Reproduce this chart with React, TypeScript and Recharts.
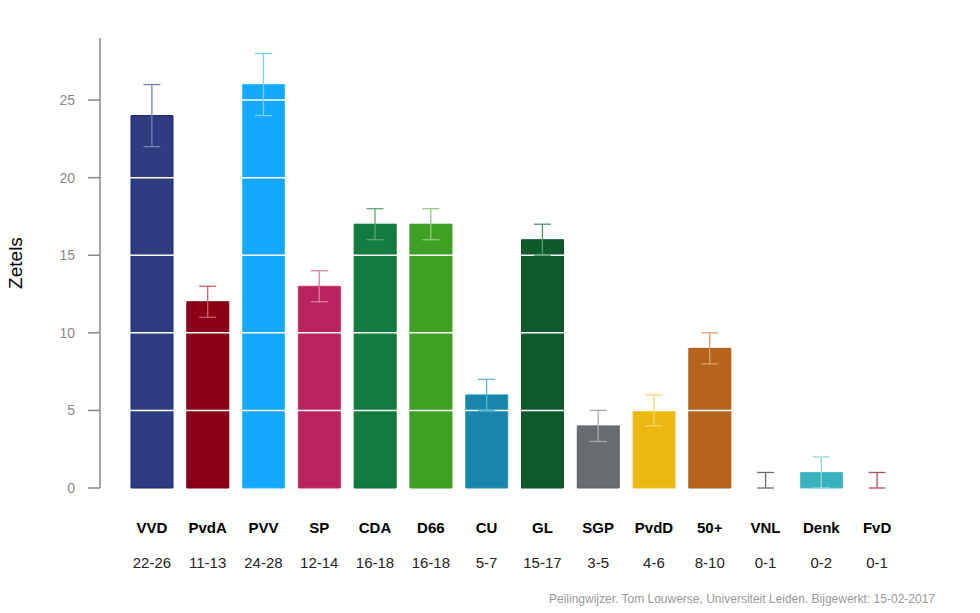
import React from "react";
import { BarChart, Bar, Cell, XAxis, YAxis, ReferenceLine } from "recharts";

const FONT = "'Liberation Sans', Arial, sans-serif";

// Peilingwijzer 15-02-2017: seat estimate with range per party
const parties = ["VVD", "PvdA", "PVV", "SP", "CDA", "D66", "CU", "GL", "SGP", "PvdD", "50+", "VNL", "Denk", "FvD"];
const seats = [24, 12, 26, 13, 17, 17, 6, 16, 4, 5, 9, 0, 1, 0];
const seatsLow = [22, 11, 24, 12, 16, 16, 5, 15, 3, 4, 8, 0, 0, 0];
const seatsHigh = [26, 13, 28, 14, 18, 18, 7, 17, 5, 6, 10, 1, 2, 1];
const yTicks = [0, 5, 10, 15, 20, 25];
const gridValues = [5, 10, 15, 20, 25];

const barColors = [
  "#2f3d80", "#8b0017", "#14a8fe", "#b9245f", "#137b3b", "#3fa124", "#1687ab",
  "#0d5a2a", "#696c71", "#ebb80f", "#b5641c", "#666666", "#38b2bc", "#a83341",
];
const barStrokes = [
  "#1b2873", "#7a0010", "#3cb8ff", "#c8306c", "#0f6f33", "#38961c", "#2a93b5",
  "#0a4f24", "#5c5f63", "#f0c22e", "#a95a15", "#666666", "#4bbfc8", "#a83341",
];
const whiskerColors = [
  "#7180b6", "#c9606e", "#78d3ff", "#e07ca3", "#5fa57a", "#91cd7c", "#5cbad4",
  "#4f9a6c", "#a9abae", "#f6d467", "#d8a271", "#6b6b6b", "#9ad7dc", "#b3505b",
];

const data = parties.map((name, i) => ({ name, seats: seats[i] }));

// whisker drawn on a reference segment, so the library scale places it
function Whisker(props: any) {
  const { x1, y1, x2, y2, stroke } = props;
  const cap = 8.5;
  return (
    <g stroke={stroke} strokeWidth={1.3} fill="none">
      <line x1={x1} y1={y1} x2={x2} y2={y2} />
      <line x1={x1 - cap} y1={y1} x2={x1 + cap} y2={y1} />
      <line x1={x2 - cap} y1={y2} x2={x2 + cap} y2={y2} />
    </g>
  );
}

function PartyTick(props: any) {
  const { x, y, payload } = props;
  const i = parties.indexOf(payload.value);
  return (
    <g>
      <text x={x} y={y + 31} textAnchor="middle" dominantBaseline="central" fontFamily={FONT} fontSize={15} fontWeight="bold" fill="#000">
        {payload.value}
      </text>
      <text x={x} y={y + 66} textAnchor="middle" dominantBaseline="central" fontFamily={FONT} fontSize={15} fill="#222">
        {`${seatsLow[i]}-${seatsHigh[i]}`}
      </text>
    </g>
  );
}

function YLabel(props: any) {
  const vb = props.viewBox;
  const cx = vb.x + 15;
  const cy = vb.y + vb.height / 2;
  return (
    <text x={cx} y={cy} transform={`rotate(-90, ${cx}, ${cy})`} textAnchor="middle" dominantBaseline="central" fontFamily={FONT} fontSize={19} fill="#000">
      Zetels
    </text>
  );
}

export default function App() {
  return (
    <div style={{ position: "absolute", left: 0, top: 0, width: 980, height: 613, background: "#fff" }}>
      <BarChart width={980} height={613} data={data} margin={{ top: 38, right: 75, left: 0, bottom: 15 }}>
        <XAxis
          dataKey="name"
          axisLine={false}
          tickLine={false}
          height={110}
          interval={0}
          padding={{ left: 24, right: 0 }}
          tick={<PartyTick />}
        />
        <YAxis
          width={100}
          domain={[0, 29]}
          ticks={yTicks}
          tickSize={12}
          tickMargin={13}
          axisLine={{ stroke: "#888", strokeWidth: 1.5 }}
          tickLine={{ stroke: "#888", strokeWidth: 1.5 }}
          tick={{ fill: "#888", fontSize: 14, fontFamily: FONT }}
          label={<YLabel />}
        />
        <Bar dataKey="seats" barSize={42} isAnimationActive={false} strokeWidth={1}>
          {data.map((d, i) => (
            <Cell key={d.name} fill={barColors[i]} stroke={barStrokes[i]} />
          ))}
        </Bar>
        {gridValues.map((v) => (
          <ReferenceLine key={`g${v}`} y={v} stroke="#ffffff" strokeWidth={1.5} />
        ))}
        {parties.map((p, i) => (
          <ReferenceLine
            key={`e${p}`}
            segment={[{ x: p, y: seatsLow[i] }, { x: p, y: seatsHigh[i] }]}
            stroke={whiskerColors[i]}
            shape={<Whisker />}
          />
        ))}
      </BarChart>
      <div
        style={{
          position: "absolute",
          right: 45,
          top: 592,
          fontFamily: FONT,
          fontSize: 12,
          color: "#999",
          whiteSpace: "nowrap",
        }}
      >
        Peilingwijzer. Tom Louwerse, Universiteit Leiden. Bijgewerkt: 15-02-2017
      </div>
    </div>
  );
}
